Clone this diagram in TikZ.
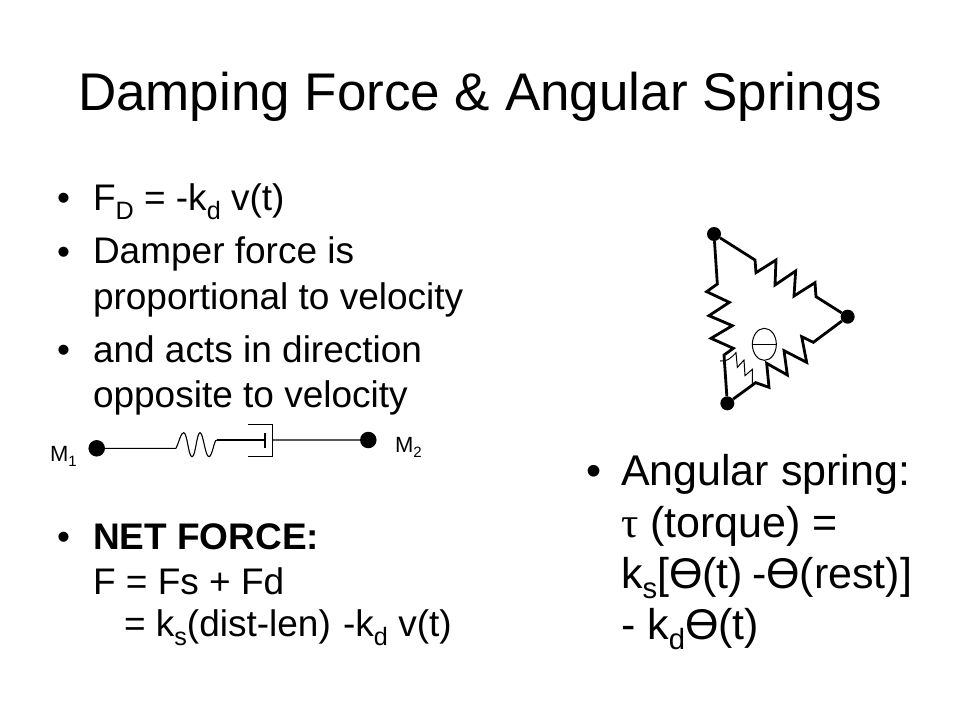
\documentclass[tikz,border=0pt]{standalone}
\usepackage{fontspec}
\usetikzlibrary{shapes.geometric}
\setmainfont{Liberation Sans}
\newfontfamily\tauface{Liberation Serif}
\newcommand{\fsz}[1]{\fontsize{#1}{#1}\selectfont}
\newcommand{\lowsub}[1]{\raisebox{-0.25em}{\fontsize{0.68em}{0.68em}\selectfont #1}}
\tikzset{
  x=1pt,y=-1pt,
  txt/.style={anchor=base west,inner sep=0pt,outer sep=0pt,text=black},
  titletext/.style={txt,font=\fsz{53}},
  bodytext/.style={txt,font=\fsz{37}},
  bigtext/.style={txt,font=\fsz{43}},
  smalltext/.style={txt,font=\fsz{22}},
  massdot/.style={circle,fill=black,inner sep=0pt,minimum size=16.5pt},
  jointdot/.style={circle,fill=black,inner sep=0pt,minimum size=14pt},
  thick spring/.style={line width=2.8pt,line join=miter},
  thin spring/.style={line width=1pt},
  fine/.style={line width=1.1pt}
}
\begin{document}
\begin{tikzpicture}
\useasboundingbox[fill=white] (0,0) rectangle (960,720);
\node[titletext] (title) at (78,110) {Damping Force \& Angular Springs};
% left bullets
\node[bodytext] (b1) at (57,210) {•};
\node[bodytext] (l1) at (93,210) {F\lowsub{D} = -k\lowsub{d} v(t)};
\node[bodytext] (b2) at (57,264) {•};
\node[bodytext] (l2) at (93,263) {Damper force is};
\node[bodytext] (l3) at (93,309) {proportional to velocity};
\node[bodytext] (b3) at (57,362) {•};
\node[bodytext] (l4) at (93,362) {and acts in direction};
\node[bodytext] (l5) at (93,407) {opposite to velocity};
\node[bodytext] (b4) at (57,549) {•};
\node[bodytext,font=\fsz{37}\bfseries] (l6) at (93,549) {NET FORCE:};
\node[bodytext] (l7) at (93,594) {F = Fs + Fd};
\node[bodytext] (l8) at (124,636) {= k\lowsub{s}(dist-len)\kern2pt{} -k\lowsub{d} v(t)};
% right bullets
\node[bigtext] (b5) at (586,485) {•};
\node[bigtext] (r1) at (621,485) {Angular spring:};
\node[bigtext] (r2) at (621,537) {{\tauface τ} (torque) =};
\node[bigtext] (r3) at (621,588) {k\lowsub{s}[Ɵ(t)\kern-3pt{} -Ɵ(rest)]};
\node[bigtext] (r4) at (621,639) {- k\lowsub{d}Ɵ(t)};
% mass-spring-damper
\node[massdot] (m1) at (96.7,448.3) {};
\node[massdot] (m2) at (368.3,440) {};
\node[smalltext] (m1l) at (50,461) {M\lowsub{1}};
\node[smalltext] (m2l) at (395,452) {M\lowsub{2}};
\begin{scope}[shift={(40,410)},x=1pt/3,y=-1pt/3]
  \coordinate (p1) at (408,115);
  \coordinate (p2) at (530,90);
  \coordinate (plate) at (675,90);
  \coordinate (boxr) at (697,90);
  \draw[fine] (m1) -- (p1);
  \draw[fine] (p1) .. controls (418,95) and (422,68) .. (431,68)
     .. controls (442,68) and (445,140) .. (456,140)
     .. controls (467,140) and (470,68) .. (480,68)
     .. controls (490,68) and (495,140) .. (507,140)
     .. controls (517,140) and (522,90) .. (p2);
  \draw[fine] (p2) -- (plate);
  \draw[fine] (675,70) -- (675,115);
  \draw[fine] (625,43) -- (697,43) -- (697,140) -- (625,140);
  \draw[fine] (boxr) -- (m2);
\end{scope}
% triangle
\begin{scope}[shift={(660,210)},x=1pt/3,y=-1pt/3]
  \node[jointdot] (a) at (162,72) {};
  \node[jointdot] (b) at (563,320) {};
  \node[jointdot] (c) at (202,580) {};
  \draw[thick spring] (a) -- (285,150) -- (288,188) -- (348,150) -- (345,225) -- (407,183) -- (402,258) -- (465,218) -- (468,260) -- (b);
  \draw[thick spring] (b) -- (460,397) -- (425,380) -- (440,457) -- (372,422) -- (382,495) -- (320,460) -- (327,532) -- (287,518) -- (c);
  \draw[thick spring] (a) -- (172,222) -- (140,245) -- (208,277) -- (147,317) -- (217,347) -- (153,385) -- (220,415) -- (192,435) -- (c);
  \draw[thin spring] (180,453) .. controls (200,456) and (212,445) .. (228,428) -- (232,472) -- (252,450) -- (255,497) -- (277,478) -- (277,525);
  \node[draw,ellipse,line width=1pt,minimum width=24pt,minimum height=32pt,inner sep=0pt] (e) at (313,403) {};
  \draw[line width=1pt] (e.west) -- (e.east);
\end{scope}
\end{tikzpicture}
\end{document}
